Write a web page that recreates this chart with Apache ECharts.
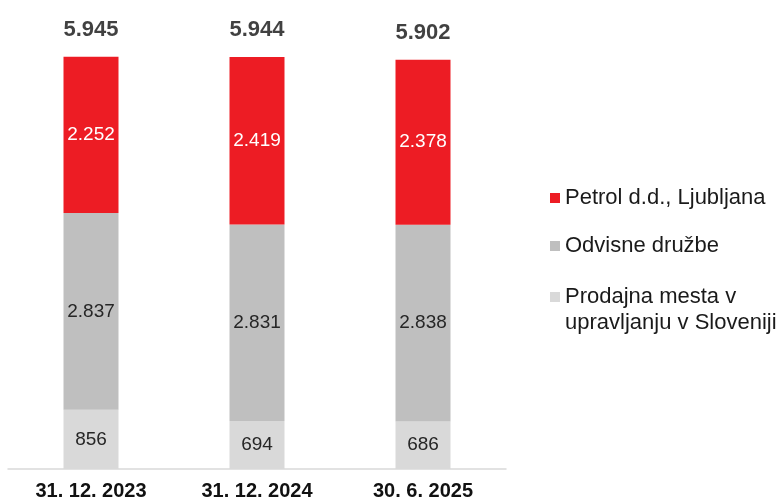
<!DOCTYPE html>
<html lang="sl">
<head>
    <meta charset="UTF-8">
    <title>Prodajna mesta</title>
    <script src="https://cdn.jsdelivr.net/npm/echarts@6/dist/echarts.min.js"></script>
    <style type="text/css">
        *{ margin: 0px; padding: 0px; }
        body{ background-color: #fff; }
        #chart{ width: 782px; height: 501px; }
    </style>
</head>
<body>
<div id="chart"></div>
<script type="text/javascript">
    var categories = ['31. 12. 2023', '31. 12. 2024', '30. 6. 2025'];
    var seriesNames = ['Petrol d.d., Ljubljana', 'Odvisne družbe', 'Prodajna mesta v upravljanju v Sloveniji'];
    var managedValues = [856, 694, 686];
    var subsidiaryValues = [2837, 2831, 2838];
    var petrolValues = [2252, 2419, 2378];
    var totalValues = [5945, 5944, 5902];

    // slovensko: pika kot ločilo tisočic
    function fmt(v) {
        return String(v).replace(/\B(?=(\d{3})+(?!\d))/g, '.');
    }

    var myChart = echarts.init(document.getElementById('chart'));

    var fontName = '"Liberation Sans", Arial, sans-serif';

    var option = {
        animation: false,
        grid: { left: 8, right: 276, top: 53, bottom: 32 },
        xAxis: {
            type: 'category',
            data: categories,
            axisLine: { lineStyle: { color: '#D9D9D9', width: 1.5 } },
            axisTick: { show: false },
            axisLabel: {
                margin: 12,
                fontFamily: fontName,
                fontSize: 20,
                fontWeight: 'bold',
                color: '#111111'
            }
        },
        yAxis: {
            type: 'value',
            min: 0,
            max: 6000,
            show: false
        },
        legend: [
            {
                data: [seriesNames[0], seriesNames[1]],
                orient: 'vertical',
                left: 550,
                top: 186,
                padding: 0,
                itemWidth: 10,
                itemHeight: 10,
                itemGap: 24,
                icon: 'rect',
                textStyle: { fontFamily: fontName, fontSize: 22, lineHeight: 24, color: '#1a1a1a' }
            },
            {
                data: [seriesNames[2]],
                orient: 'vertical',
                left: 550,
                top: 258,
                padding: 0,
                itemWidth: 10,
                itemHeight: 10,
                icon: 'rect',
                // prazna prva vrstica, da je ikona poravnana s prvo vrstico besedila
                formatter: function (name) {
                    return '\nProdajna mesta v\nupravljanju v Sloveniji';
                },
                textStyle: { fontFamily: fontName, fontSize: 22, lineHeight: 26, color: '#1a1a1a' }
            }
        ],
        series: [
            {
                name: seriesNames[2],
                type: 'bar',
                stack: 'total',
                barWidth: 55,
                data: managedValues,
                itemStyle: { color: '#D9D9D9' },
                label: {
                    show: true, position: 'inside',
                    fontFamily: fontName, fontSize: 19, color: '#262626',
                    formatter: function (p) { return fmt(p.value); }
                }
            },
            {
                name: seriesNames[1],
                type: 'bar',
                stack: 'total',
                barWidth: 55,
                data: subsidiaryValues,
                itemStyle: { color: '#BFBFBF' },
                label: {
                    show: true, position: 'inside',
                    fontFamily: fontName, fontSize: 19, color: '#262626',
                    formatter: function (p) { return fmt(p.value); }
                }
            },
            {
                name: seriesNames[0],
                type: 'bar',
                stack: 'total',
                barWidth: 55,
                data: petrolValues,
                itemStyle: { color: '#ED1C24' },
                label: {
                    show: true, position: 'inside',
                    fontFamily: fontName, fontSize: 19, color: '#ffffff',
                    formatter: function (p) { return fmt(p.value); }
                }
            },
            {
                name: 'Skupaj',
                type: 'scatter',
                data: totalValues,
                symbolSize: 0,
                silent: true,
                label: {
                    show: true, position: 'top', distance: 16,
                    fontFamily: fontName, fontSize: 22, fontWeight: 'bold', color: '#111111',
                    formatter: function (p) { return fmt(p.value); }
                }
            }
        ]
    };
    myChart.setOption(option);
</script>
</body>
</html>
